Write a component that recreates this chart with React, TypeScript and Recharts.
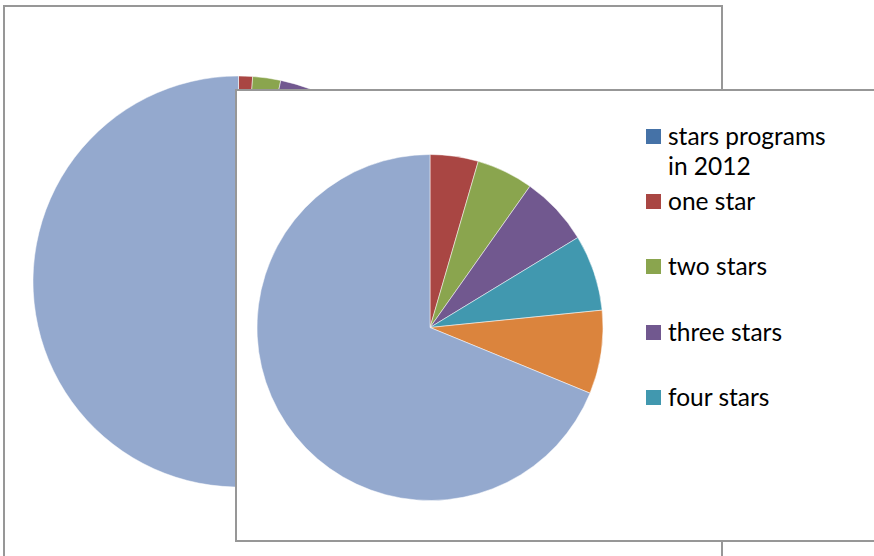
import React from 'react';
import { PieChart, Pie, Cell, Legend } from 'recharts';

const categories = [
  'stars programs in 2012',
  'one star',
  'two stars',
  'three stars',
  'four stars',
  'five stars',
  'no stars',
];
const colors = ['#4572A7', '#A94643', '#8AA54E', '#71588F', '#4198AF', '#DB843D', '#94A9CE'];
const backValues = [0, 11, 22, 25, 28, 31, 883];
const frontValues = [0, 45, 53, 65, 71, 78, 688];
const legendShown = 5;

const build = (vals: number[]) =>
  categories
    .map((name, i) => ({ name, value: vals[i], color: colors[i] }))
    .filter((d) => d.value > 0);

const backData = build(backValues);
const frontData = build(frontValues);

const legendRowTop = [45, 110, 175, 241, 306];
const noMargin = { top: 0, right: 0, bottom: 0, left: 0 };

const LegendContent = () => (
  <div style={{ position: 'relative', width: 260, height: 360 }}>
    {categories.slice(0, legendShown).map((name, i) => {
      const lines = i === 0 ? ['stars programs', 'in 2012'] : [name];
      return (
        <div key={name} style={{ position: 'absolute', left: 0, top: legendRowTop[i] - 7.5 }}>
          <div style={{ position: 'absolute', left: 0, top: 0, width: 15, height: 15, background: colors[i] }} />
          <div
            style={{
              position: 'absolute',
              left: 22,
              top: -8,
              whiteSpace: 'nowrap',
              fontFamily: 'Lato, "Noto Sans", sans-serif',
              fontSize: 24.5,
              lineHeight: '30px',
              color: '#000',
            }}
          >
            {lines.map((l) => (
              <div key={l}>{l}</div>
            ))}
          </div>
        </div>
      );
    })}
  </div>
);

export default function App() {
  return (
    <div style={{ position: 'absolute', left: 0, top: 0, width: 874, height: 556, overflow: 'hidden', background: '#fff' }}>
      <div
        style={{
          position: 'absolute',
          left: 3,
          top: 5,
          width: 716,
          height: 600,
          border: '2px solid #979797',
          background: '#fff',
        }}
      >
        <PieChart width={716} height={600} margin={noMargin}>
          <Pie
            data={backData}
            dataKey="value"
            nameKey="name"
            cx={233.5}
            cy={274.5}
            outerRadius={205.5}
            startAngle={90}
            endAngle={-270}
            stroke="#ffffff"
            strokeWidth={0.5}
            isAnimationActive={false}
          >
            {backData.map((d) => (
              <Cell key={d.name} fill={d.color} />
            ))}
          </Pie>
        </PieChart>
      </div>
      <div
        style={{
          position: 'absolute',
          left: 235,
          top: 89,
          width: 700,
          height: 449,
          border: '2px solid #979797',
          background: '#fff',
        }}
      >
        <PieChart width={700} height={449} margin={noMargin}>
          <Pie
            data={frontData}
            dataKey="value"
            nameKey="name"
            cx={193}
            cy={236.5}
            outerRadius={173}
            startAngle={90}
            endAngle={-270}
            stroke="#ffffff"
            strokeWidth={0.5}
            isAnimationActive={false}
          >
            {frontData.map((d) => (
              <Cell key={d.name} fill={d.color} />
            ))}
          </Pie>
          <Legend
            content={() => <LegendContent />}
            wrapperStyle={{ position: 'absolute', left: 409, top: 0, width: 260, height: 360 }}
          />
        </PieChart>
      </div>
    </div>
  );
}
